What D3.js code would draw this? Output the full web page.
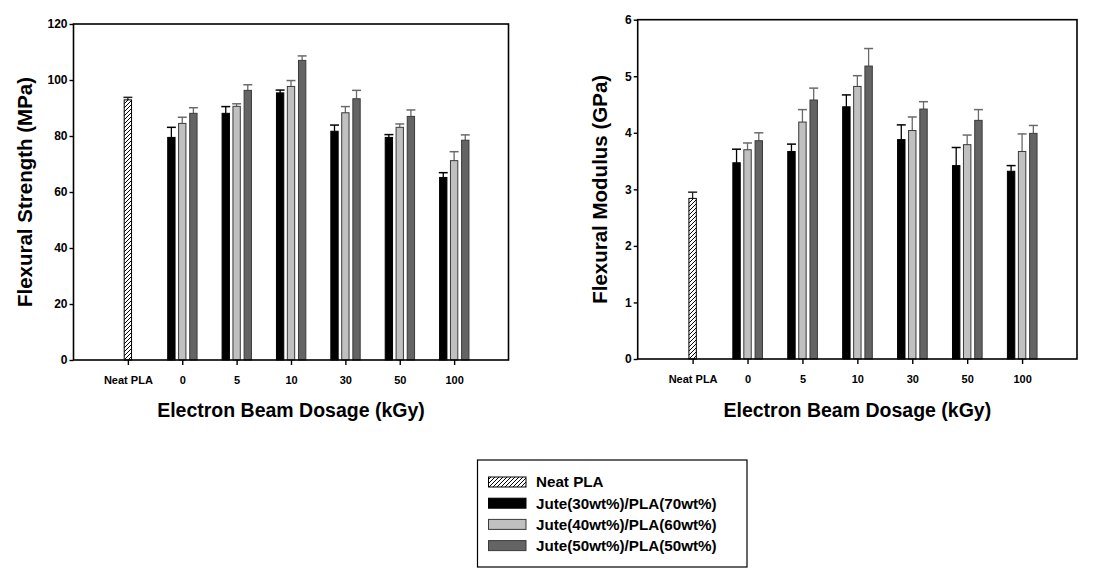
<!DOCTYPE html>
<html><head><meta charset="utf-8">
<script src="https://cdn.jsdelivr.net/npm/d3@7"></script>
<style>
html,body{margin:0;padding:0;background:#fff;}
svg{display:block;}
text{font-family:"Liberation Sans",Arial,Helvetica,sans-serif;font-weight:bold;fill:#000;}
</style></head>
<body>
<svg id="chart" width="1116" height="575"></svg>
<script>
// ---- data ----
const categories = ["Neat PLA", "0", "5", "10", "30", "50", "100"];
const seriesNames = ["Neat PLA", "Jute(30wt%)/PLA(70wt%)", "Jute(40wt%)/PLA(60wt%)", "Jute(50wt%)/PLA(50wt%)"];

const neatStrength = [92.9];
const neatStrengthErr = [0.9];
const jute30Strength = [79.5, 88.1, 95.4, 81.7, 79.5, 65.2];
const jute30StrengthErr = [3.6, 2.4, 1.0, 2.2, 1.0, 1.7];
const jute40Strength = [84.5, 90.6, 97.7, 88.3, 83.1, 71.2];
const jute40StrengthErr = [2.2, 0.9, 2.1, 2.2, 1.2, 3.2];
const jute50Strength = [88.1, 96.3, 107.0, 93.3, 87.0, 78.5];
const jute50StrengthErr = [2.0, 2.0, 1.6, 3.0, 2.3, 1.9];

const neatModulus = [2.84];
const neatModulusErr = [0.11];
const jute30Modulus = [3.47, 3.67, 4.46, 3.88, 3.42, 3.32];
const jute30ModulusErr = [0.24, 0.13, 0.21, 0.26, 0.32, 0.10];
const jute40Modulus = [3.70, 4.19, 4.82, 4.04, 3.79, 3.67];
const jute40ModulusErr = [0.12, 0.22, 0.19, 0.24, 0.17, 0.31];
const jute50Modulus = [3.86, 4.58, 5.18, 4.42, 4.22, 3.99];
const jute50ModulusErr = [0.14, 0.21, 0.31, 0.13, 0.19, 0.14];

const strengthTicks = [0, 20, 40, 60, 80, 100, 120];
const modulusTicks = [0, 1, 2, 3, 4, 5, 6];

// ---- styles ----
const fills = ["url(#hatch)", "#000000", "#c0c0c0", "#646464"];
const strokes = ["#000", "#000", "#3a3a3a", "#3a3a3a"];
const errColors = ["#222", "#000", "#6a6a6a", "#6a6a6a"];

const svg = d3.select("#chart");
const defs = svg.append("defs");
const pat = defs.append("pattern").attr("id", "hatch").attr("patternUnits", "userSpaceOnUse")
  .attr("width", 4).attr("height", 4);
pat.append("rect").attr("width", 4).attr("height", 4).attr("fill", "#fff");
pat.append("path").attr("d", "M-1,1 l2,-2 M0,4 l4,-4 M3,5 l2,-2").attr("stroke", "#000").attr("stroke-width", 1);

function drawChart(cfg) {
  const g = svg.append("g");
  const x = d3.scaleLinear().domain([0, 8]).range([cfg.x0, cfg.x1]);
  const y = d3.scaleLinear().domain([cfg.ticks[0], cfg.ticks[cfg.ticks.length - 1]]).range([cfg.y1, cfg.y0]);
  const unit = x(1) - x(0);
  const bw = 0.135 * unit;
  const offs = [0, -0.2, 0, 0.205];

  const bars = [];
  bars.push({s: 0, c: 1, v: cfg.neat[0], e: cfg.neatErr[0]});
  cfg.series.forEach((arr, si) => {
    arr.forEach((v, i) => bars.push({s: si + 1, c: i + 2, v: v, e: cfg.errs[si][i]}));
  });

  // error bars (upper)
  bars.forEach(b => {
    const cx = x(b.c + offs[b.s]);
    g.append("line").attr("x1", cx).attr("x2", cx).attr("y1", y(b.v)).attr("y2", y(b.v + b.e))
      .attr("stroke", errColors[b.s]).attr("stroke-width", 1.3);
    g.append("line").attr("x1", cx - bw / 2 - 0.8).attr("x2", cx + bw / 2 + 0.8).attr("y1", y(b.v + b.e)).attr("y2", y(b.v + b.e))
      .attr("stroke", errColors[b.s]).attr("stroke-width", 1.5);
  });
  g.selectAll("rect.bar").data(bars).enter().append("rect")
    .attr("x", b => x(b.c + offs[b.s]) - bw / 2)
    .attr("y", b => y(b.v))
    .attr("width", bw)
    .attr("height", b => y(0) - y(b.v))
    .attr("fill", b => fills[b.s])
    .attr("stroke", b => strokes[b.s])
    .attr("stroke-width", 1);

  g.append("rect").attr("x", cfg.x0).attr("y", cfg.y0).attr("width", cfg.x1 - cfg.x0).attr("height", cfg.y1 - cfg.y0)
    .attr("fill", "none").attr("stroke", "#000").attr("stroke-width", 1.6);

  const ya = d3.axisLeft(y).tickValues(cfg.ticks).tickSize(4).tickPadding(2).tickFormat(d3.format("d"));
  const yg = g.append("g").attr("transform", `translate(${cfg.x0},0)`).call(ya);
  yg.select(".domain").remove();
  yg.selectAll("line").attr("stroke", "#000").attr("stroke-width", 1.4);
  yg.selectAll("text").attr("font-size", 12).attr("font-family", null).attr("font-weight", "bold");

  const xa = d3.axisBottom(x).tickValues(d3.range(1, 8)).tickSize(5).tickPadding(11)
    .tickFormat(d => categories[d - 1]);
  const xg = g.append("g").attr("transform", `translate(0,${cfg.y1})`).call(xa);
  xg.select(".domain").remove();
  xg.selectAll("line").attr("stroke", "#000").attr("stroke-width", 1.4);
  xg.selectAll("text").attr("font-size", 11).attr("font-family", null).attr("font-weight", "bold");

  g.append("text").attr("x", (cfg.x0 + cfg.x1) / 2).attr("y", 417).attr("text-anchor", "middle")
    .attr("font-size", 19.5).text("Electron Beam Dosage (kGy)");
  g.append("text").attr("transform", `translate(${cfg.ytx},${(cfg.y0 + cfg.y1) / 2}) rotate(-90)`)
    .attr("text-anchor", "middle").attr("dy", "0.36em").attr("font-size", 20.5).text(cfg.ytitle);
}

drawChart({x0: 73.5, x1: 508.5, y0: 24, y1: 360, ticks: strengthTicks, ytx: 25,
  ytitle: "Flexural Strength (MPa)", neat: neatStrength, neatErr: neatStrengthErr,
  series: [jute30Strength, jute40Strength, jute50Strength],
  errs: [jute30StrengthErr, jute40StrengthErr, jute50StrengthErr]});

drawChart({x0: 637.7, x1: 1077, y0: 19.7, y1: 359, ticks: modulusTicks, ytx: 600,
  ytitle: "Flexural Modulus (GPa)", neat: neatModulus, neatErr: neatModulusErr,
  series: [jute30Modulus, jute40Modulus, jute50Modulus],
  errs: [jute30ModulusErr, jute40ModulusErr, jute50ModulusErr]});

// legend
const lg = svg.append("g");
lg.append("rect").attr("x", 477.5).attr("y", 460).attr("width", 269.5).attr("height", 107)
  .attr("fill", "#fff").attr("stroke", "#000").attr("stroke-width", 1.2);
seriesNames.forEach((name, i) => {
  const cy = 482 + i * 21.2;
  lg.append("rect").attr("x", 488.5).attr("y", cy - 5).attr("width", 37.5).attr("height", 10)
    .attr("fill", fills[i]).attr("stroke", strokes[i]).attr("stroke-width", 1);
  lg.append("text").attr("x", 536).attr("y", cy).attr("dy", "0.36em").attr("font-size", 15.2).text(name);
});
</script>
</body></html>
